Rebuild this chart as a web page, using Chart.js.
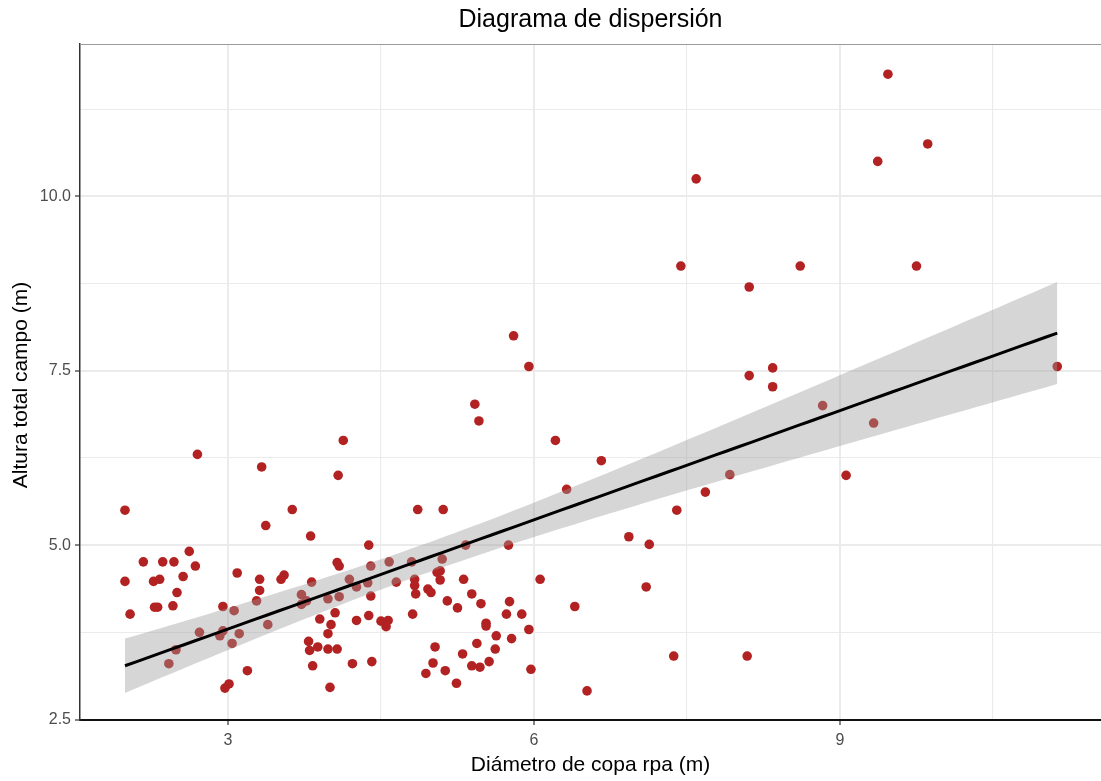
<!DOCTYPE html>
<html lang="es">
<head>
<meta charset="utf-8">
<title>Diagrama de dispersión</title>
<script src="https://cdn.jsdelivr.net/npm/chart.js@4.4.1/dist/chart.umd.min.js"></script>
<style>
  html, body { margin: 0; padding: 0; background: #ffffff; }
  #wrap { width: 1101px; height: 781px; position: relative; }
  canvas { display: block; }
</style>
</head>
<body>
<div id="wrap"><canvas id="grafico" width="1101" height="781"></canvas></div>
<script>
// Diámetro de copa (m) por árbol
const diametro = [
  1.99, 2.04, 2.17, 2.36, 2.47, 2.62, 2.68, 2.27, 2.33, 1.99,
  2.56, 2.50, 2.28, 2.31, 2.46, 2.95, 3.06, 2.72, 2.49, 2.42,
  2.92, 2.95, 3.04, 3.11, 3.19, 2.97, 3.01, 3.09, 3.31, 3.31,
  3.28, 3.33, 3.63, 3.37, 2.70, 3.81, 3.52, 3.55, 3.82, 3.72,
  3.77, 3.72, 3.90, 4.01, 3.98, 4.05, 3.79, 3.80, 3.88, 3.98,
  4.07, 3.83, 4.00, 4.07, 4.09, 4.08, 4.13, 3.98, 4.09, 4.19,
  4.26, 4.40, 4.37, 4.58, 4.40, 4.65, 4.38, 4.80, 4.83, 4.83,
  4.84, 4.96, 4.99, 4.26, 4.38, 4.50, 4.57, 4.55, 4.81, 4.22,
  4.41, 4.86, 5.11, 5.01, 4.94, 5.03, 5.05, 5.08, 5.10, 5.08,
  5.31, 5.15, 5.25, 5.39, 5.48, 5.53, 5.53, 5.73, 5.76, 5.88,
  5.95, 5.63, 5.78, 5.44, 5.62, 5.30, 5.39, 5.47, 5.56, 5.13,
  5.24, 5.97, 6.06, 6.40, 6.52, 5.33, 5.75, 5.46, 5.42, 5.80,
  5.95, 6.21, 6.66, 6.32, 6.93, 7.13, 7.40, 7.68, 7.92, 7.10,
  7.37, 8.09, 9.47, 9.86, 9.37, 7.59, 7.44, 8.61, 9.75, 8.11,
  8.11, 8.34, 8.34, 8.83, 9.33, 11.13, 9.06, 3.39
];

// Altura total medida en campo (m), mismo orden que diametro
const altura = [
  5.50, 4.01, 4.76, 4.76, 4.76, 4.91, 4.70, 4.48, 4.51, 4.48,
  4.55, 4.32, 4.11, 4.11, 4.13, 4.12, 4.06, 3.75, 3.50, 3.30,
  3.70, 3.77, 3.59, 3.73, 3.20, 2.95, 3.01, 4.60, 4.51, 4.35,
  4.20, 6.12, 5.51, 5.28, 6.30, 5.13, 4.51, 4.57, 4.47, 4.29,
  4.20, 4.15, 3.94, 3.86, 3.73, 4.03, 3.62, 3.49, 3.54, 3.51,
  3.51, 3.27, 2.96, 4.75, 4.70, 6.00, 6.50, 4.23, 4.26, 4.51,
  4.40, 4.70, 4.46, 4.76, 4.27, 4.47, 5.00, 4.76, 4.51, 4.42,
  4.30, 4.37, 4.32, 3.92, 3.99, 3.91, 3.92, 3.83, 4.01, 3.30,
  3.33, 5.51, 5.51, 3.31, 3.16, 3.54, 4.61, 4.63, 4.80, 4.50,
  4.51, 4.20, 4.10, 4.30, 4.16, 3.88, 3.84, 4.01, 4.19, 4.01,
  3.79, 3.70, 3.66, 3.59, 3.51, 3.44, 3.27, 3.25, 3.33, 3.20,
  3.02, 3.22, 4.51, 4.12, 2.91, 5.00, 5.00, 6.78, 7.02, 8.00,
  7.56, 6.50, 6.21, 5.80, 5.12, 5.01, 5.50, 5.76, 6.01, 4.40,
  3.41, 3.41, 11.75, 10.75, 10.50, 10.25, 9.00, 9.00, 9.00, 8.70,
  7.43, 7.54, 7.27, 7.00, 6.75, 7.56, 6.00, 3.86
];

// Marcas de los ejes: principales (con etiqueta) y secundarias (solo rejilla)
const marcasX = [3, 4.5, 6, 7.5, 9, 10.5];
const etiquetasX = ['3', '', '6', '', '9', ''];
const marcasY = [2.5, 3.75, 5, 6.25, 7.5, 8.75, 10, 11.25];
const etiquetasY = ['2.5', '', '5.0', '', '7.5', '', '10.0', ''];

const titulo = 'Diagrama de dispersión';
const tituloX = 'Diámetro de copa rpa (m)';
const tituloY = 'Altura total campo (m)';

// ---- Ajuste lineal (mínimos cuadrados) con banda de confianza del 95 % ----
function cuantilT975(gl) {
  const z = 1.959963985;
  return z + (z ** 3 + z) / (4 * gl) +
    (5 * z ** 5 + 16 * z ** 3 + 3 * z) / (96 * gl * gl) +
    (3 * z ** 7 + 19 * z ** 5 + 17 * z ** 3 - 15 * z) / (384 * gl ** 3);
}

function ajusteLineal(xs, ys) {
  const n = xs.length;
  const mx = xs.reduce((s, v) => s + v, 0) / n;
  const my = ys.reduce((s, v) => s + v, 0) / n;
  let sxx = 0, sxy = 0;
  for (let i = 0; i < n; i++) {
    sxx += (xs[i] - mx) ** 2;
    sxy += (xs[i] - mx) * (ys[i] - my);
  }
  const b = sxy / sxx;
  const a = my - b * mx;
  let sse = 0;
  for (let i = 0; i < n; i++) sse += (ys[i] - (a + b * xs[i])) ** 2;
  const s = Math.sqrt(sse / (n - 2));
  return { n, mx, sxx, a, b, s, t: cuantilT975(n - 2) };
}

const fit = ajusteLineal(diametro, altura);
const xMin = Math.min(...diametro);
const xMax = Math.max(...diametro);
const recta = [], bandaSup = [], bandaInf = [];
const pasos = 80;
for (let k = 0; k < pasos; k++) {
  const x = xMin + (xMax - xMin) * k / (pasos - 1);
  const yhat = fit.a + fit.b * x;
  const se = fit.s * Math.sqrt(1 / fit.n + (x - fit.mx) ** 2 / fit.sxx);
  recta.push({ x, y: yhat });
  bandaSup.push({ x, y: yhat + fit.t * se });
  bandaInf.push({ x, y: yhat - fit.t * se });
}

const puntos = diametro.map((d, i) => ({ x: d, y: altura[i] }));

const FUENTE = '"Liberation Sans", Arial, "DejaVu Sans", sans-serif';

// Títulos y borde superior del panel
const decoracion = {
  id: 'decoracion',
  afterDraw(chart) {
    const { ctx, chartArea: ca } = chart;
    ctx.save();
    // borde superior del panel
    ctx.strokeStyle = '#9a9a9a';
    ctx.lineWidth = 1.2;
    ctx.beginPath();
    ctx.moveTo(ca.left, ca.top + 0.5);
    ctx.lineTo(ca.right, ca.top + 0.5);
    ctx.stroke();

    ctx.fillStyle = '#000000';
    ctx.textAlign = 'center';
    ctx.textBaseline = 'middle';
    const cx = (ca.left + ca.right) / 2;
    ctx.font = '25px ' + FUENTE;
    ctx.fillText(titulo, cx, 20);

    ctx.font = '21px ' + FUENTE;
    ctx.fillText(tituloX, cx, 765);

    ctx.translate(21, (ca.top + ca.bottom) / 2 + 3);
    ctx.rotate(-Math.PI / 2);
    ctx.fillText(tituloY, 0, 0);
    ctx.restore();
  }
};

const esPrincipal = (v, paso) => Math.abs(v / paso - Math.round(v / paso)) < 1e-9;

new Chart(document.getElementById('grafico'), {
  type: 'scatter',
  data: {
    datasets: [
      {
        label: 'Árboles',
        data: puntos,
        backgroundColor: '#B22222',
        borderWidth: 0,
        pointRadius: 4.8,
        pointHoverRadius: 4.8,
        order: 2
      },
      {
        label: 'IC superior',
        type: 'line',
        data: bandaSup,
        borderWidth: 0,
        borderColor: 'rgba(0,0,0,0)',
        pointRadius: 0,
        fill: '+1',
        backgroundColor: 'rgba(153,153,153,0.4)',
        tension: 0,
        order: 1
      },
      {
        label: 'IC inferior',
        type: 'line',
        data: bandaInf,
        borderWidth: 0,
        borderColor: 'rgba(0,0,0,0)',
        pointRadius: 0,
        fill: false,
        tension: 0,
        order: 1
      },
      {
        label: 'Ajuste lineal',
        type: 'line',
        data: recta,
        borderColor: '#000000',
        borderWidth: 3,
        pointRadius: 0,
        fill: false,
        tension: 0,
        order: 0
      }
    ]
  },
  options: {
    responsive: false,
    animation: false,
    events: [],
    layout: { autoPadding: false, padding: { top: 44, left: 0, right: 0, bottom: 0 } },
    plugins: {
      legend: { display: false },
      tooltip: { enabled: false },
      title: { display: false }
    },
    scales: {
      x: {
        type: 'linear',
        min: 1.549,
        max: 11.559,
        afterBuildTicks: (s) => { s.ticks = marcasX.map(v => ({ value: v })); },
        afterFit: (s) => { s.height = 61; s.paddingLeft = 0; s.paddingRight = 0; },
        ticks: {
          autoSkip: false,
          maxRotation: 0,
          padding: 6,
          color: '#4D4D4D',
          font: { family: FUENTE, size: 16 },
          callback: (v) => { const i = marcasX.indexOf(v); return i >= 0 ? etiquetasX[i] : ''; }
        },
        grid: {
          color: '#EBEBEB',
          lineWidth: (c) => esPrincipal(c.tick.value, 3) ? 2 : 1.1,
          drawTicks: true,
          tickLength: 5,
          tickWidth: 1.2,
          tickColor: (c) => esPrincipal(c.tick.value, 3) ? '#333333' : 'rgba(0,0,0,0)'
        },
        border: { display: true, color: '#111111', width: 2 }
      },
      y: {
        type: 'linear',
        min: 2.493,
        max: 12.183,
        afterBuildTicks: (s) => { s.ticks = marcasY.map(v => ({ value: v })); },
        afterFit: (s) => { s.width = 80; s.paddingTop = 0; s.paddingBottom = 0; },
        ticks: {
          autoSkip: false,
          padding: 4,
          color: '#4D4D4D',
          font: { family: FUENTE, size: 16 },
          callback: (v) => { const i = marcasY.indexOf(v); return i >= 0 ? etiquetasY[i] : ''; }
        },
        grid: {
          color: '#EBEBEB',
          lineWidth: (c) => esPrincipal(c.tick.value, 2.5) ? 2 : 1.1,
          drawTicks: true,
          tickLength: 5,
          tickWidth: 1.2,
          tickColor: (c) => esPrincipal(c.tick.value, 2.5) ? '#333333' : 'rgba(0,0,0,0)'
        },
        border: { display: true, color: '#333333', width: 1.5 }
      }
    }
  },
  plugins: [decoracion]
});
</script>
</body>
</html>
